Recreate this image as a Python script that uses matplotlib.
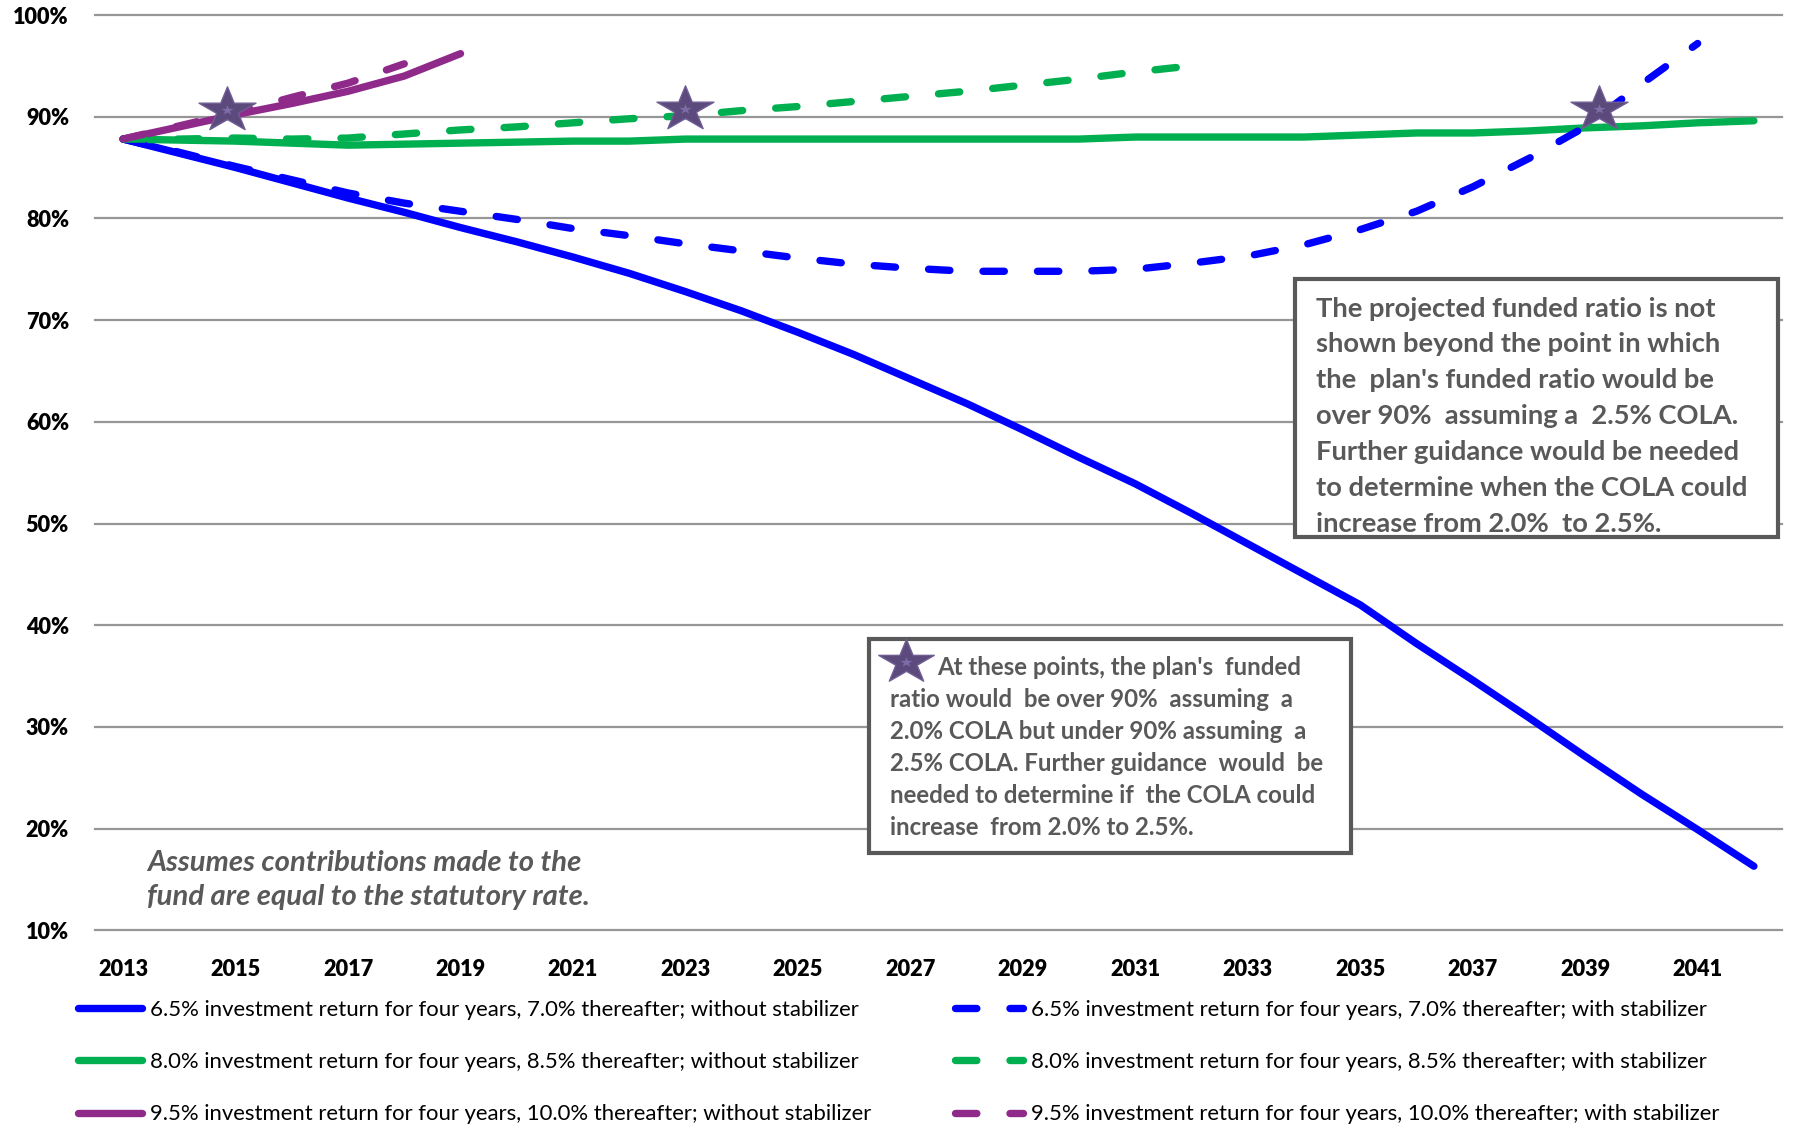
import numpy as np
import matplotlib
matplotlib.use("Agg")
import matplotlib.pyplot as plt
from matplotlib.font_manager import FontProperties
from matplotlib.lines import Line2D
from matplotlib.patches import Rectangle
from matplotlib.path import Path

# ---------------- data ----------------
years = list(range(2013, 2043))
tick_years = list(range(2013, 2042, 2))
ytick_vals = list(range(10, 101, 10))
ytick_labels = [f"{v}%" for v in ytick_vals]

blue_solid = [87.8, 86.4, 85.0, 83.5, 82.0, 80.6, 79.1, 77.7, 76.2, 74.6,
              72.8, 70.9, 68.8, 66.6, 64.2, 61.8, 59.2, 56.5, 53.9, 51.0,
              48.0, 45.0, 42.0, 38.2, 34.6, 30.9, 27.1, 23.4, 19.9, 16.3]
blue_dash = [87.8, 86.5, 85.1, 83.8, 82.5, 81.5, 80.7, 79.9, 79.0, 78.3,
             77.5, 76.8, 76.1, 75.5, 75.1, 74.8, 74.8, 74.8, 75.0, 75.6,
             76.3, 77.4, 78.9, 80.7, 83.1, 85.9, 89.0, 93.2, 97.2]
green_solid = [87.8, 87.7, 87.6, 87.4, 87.2, 87.3, 87.4, 87.5, 87.6, 87.6,
               87.8, 87.8, 87.8, 87.8, 87.8, 87.8, 87.8, 87.8, 88.0, 88.0,
               88.0, 88.0, 88.2, 88.4, 88.4, 88.6, 88.9, 89.1, 89.4, 89.6]
green_dash = [87.8, 87.8, 87.9, 87.8, 87.9, 88.3, 88.7, 89.0, 89.4, 89.8,
              90.1, 90.6, 91.0, 91.5, 92.0, 92.5, 93.1, 93.7, 94.4, 95.0]
purple_solid = [87.8, 89.0, 90.2, 91.3, 92.5, 94.0, 96.2]
purple_dash = [87.8, 89.1, 90.4, 91.9, 93.3, 95.2]

star_x = [2014.85, 2023.0, 2039.25]
star_y = [90.65, 90.8, 90.8]

labels = [
    "6.5% investment return for four years, 7.0% thereafter; without stabilizer",
    "8.0% investment return for four years, 8.5% thereafter; without stabilizer",
    "9.5% investment return for four years, 10.0% thereafter; without stabilizer",
    "6.5% investment return for four years, 7.0% thereafter; with stabilizer",
    "8.0% investment return for four years, 8.5% thereafter; with stabilizer",
    "9.5% investment return for four years, 10.0% thereafter; with stabilizer",
]

box1_lines = ["The projected funded ratio is not",
              "shown beyond the point in which",
              "the  plan's funded ratio would be",
              "over 90%  assuming a  2.5% COLA.",
              "Further guidance would be needed",
              "to determine when the COLA could",
              "increase from 2.0%  to 2.5%."]
box2_lines = ["At these points, the plan's  funded",
              "ratio would  be over 90%  assuming  a",
              "2.0% COLA but under 90% assuming  a",
              "2.5% COLA. Further guidance  would  be",
              "needed to determine if  the COLA could",
              "increase  from 2.0% to 2.5%."]
note_lines = ["Assumes contributions made to the",
              "fund are equal to the statutory rate."]

# ---------------- style ----------------
BLUE = "#0000FF"
GREEN = "#00B050"
PURPLE = "#8F2A8A"
STAR = "#5C4A7D"
STAR_IN = "#7E6CA8"
GREY_TXT = "#595959"
GRID = "#969696"
FONT = "Lato"

W, H = 1794, 1131
fig = plt.figure(figsize=(W / 100, H / 100), dpi=100)
fig.patch.set_facecolor("white")
renderer = fig.canvas.get_renderer()


def fx(px):
    return px / W


def fy(py):
    return 1 - py / H


def fit(text, target, weight="normal", style="normal"):
    fp = FontProperties(family=FONT, weight=weight, style=style, size=20)
    w, h, d = renderer.get_text_width_height_descent(text, fp, ismath=False)
    return 20 * target / w


ax = fig.add_axes([fx(95), fy(930.3), 1687 / W, (930.3 - 15) / H])
ax.set_xlim(2012.5, 2042.5)
ax.set_ylim(10, 100)
for s in ax.spines.values():
    s.set_visible(False)

ax.set_yticks(ytick_vals)
ax.set_yticklabels(ytick_labels)
ax.set_xticks(tick_years)
ax.set_xticklabels([str(y) for y in tick_years])
tick_fs = fit("2013", 50, weight="bold")
ax.tick_params(axis="both", length=0, labelsize=tick_fs)
ax.tick_params(axis="y", pad=18.7)
ax.tick_params(axis="x", pad=20.5)
for lab in ax.get_xticklabels() + ax.get_yticklabels():
    lab.set_fontfamily(FONT)
    lab.set_fontweight("heavy")
    lab.set_color("black")

ax.grid(axis="y", color=GRID, lw=1.6)
ax.grid(axis="x", visible=False)
for gl in ax.get_ygridlines():
    gl.set_clip_on(False)
ax.set_axisbelow(True)

LW = 5.3
DASH = (0, (2.9, 4.5))
common_solid = dict(lw=LW, solid_capstyle="round", solid_joinstyle="round")
common_dash = dict(lw=LW, ls=DASH, dash_capstyle="round", dash_joinstyle="round")

h0, = ax.plot(years[:len(blue_solid)], blue_solid, color=BLUE, label=labels[0], zorder=3, **common_solid)
h1, = ax.plot(years[:len(green_solid)], green_solid, color=GREEN, label=labels[1], zorder=3, **common_solid)
h2, = ax.plot(years[:len(purple_solid)], purple_solid, color=PURPLE, label=labels[2], zorder=3, **common_solid)
h3, = ax.plot(years[:len(blue_dash)], blue_dash, color=BLUE, label=labels[3], zorder=4, **common_dash)
h4, = ax.plot(years[:len(green_dash)], green_dash, color=GREEN, label=labels[4], zorder=4, **common_dash)
h5, = ax.plot(years[:len(purple_dash)], purple_dash, color=PURPLE, label=labels[5], zorder=4, **common_dash)

# squashed star marker (as in the reference, wider than tall)
_base = Path.unit_regular_star(5, 0.381966)
_v = _base.vertices.copy()
_v[:, 1] *= 0.79
star_marker = Path(_v, _base.codes)

ax.plot(star_x, star_y, ls="none", marker=star_marker, ms=41, mfc=STAR,
        mec="#6F5E93", mew=1, zorder=6, clip_on=False)
ax.plot(star_x, star_y, ls="none", marker=star_marker, ms=9, mfc=STAR_IN,
        mec="none", zorder=7, clip_on=False)

# ---------------- legends ----------------
leg_fs = fit(labels[0], 713)
fs_px = leg_fs * 100 / 72
_, lp_h, _ = renderer.get_text_width_height_descent(
    "lp", FontProperties(family=FONT, size=leg_fs), ismath=False)
lspace = (52.5 - lp_h) / fs_px
leg_kw = dict(loc="center left", frameon=False,
              handletextpad=8 / fs_px, labelspacing=lspace,
              borderpad=0, borderaxespad=0, prop={"family": FONT, "size": leg_fs})
leg1 = fig.legend([h0, h1, h2], labels[:3], bbox_to_anchor=(fx(78), fy(1062)),
                  handlelength=64 / fs_px, **leg_kw)
leg2 = fig.legend([h3, h4, h5], labels[3:], bbox_to_anchor=(fx(955), fy(1062)),
                  handlelength=68 / fs_px, **leg_kw)
for lg in (leg1, leg2):
    for t in lg.get_texts():
        t.set_color("black")

# ---------------- annotation boxes ----------------
rect1 = Rectangle((fx(1295), fy(537)), (1778 - 1295) / W, (537 - 279) / H,
                  transform=fig.transFigure, facecolor="white",
                  edgecolor=GREY_TXT, lw=3.0, zorder=10)
fig.add_artist(rect1)
rect2 = Rectangle((fx(869), fy(853)), (1351 - 869) / W, (853 - 639) / H,
                  transform=fig.transFigure, facecolor="white",
                  edgecolor=GREY_TXT, lw=3.0, zorder=10)
fig.add_artist(rect2)

b1_fs = fit(box1_lines[0], 400, weight="bold")
for i, line in enumerate(box1_lines):
    fig.text(fx(1316), fy(316.7 + i * 35.8), line, fontsize=b1_fs, family=FONT,
             weight="bold", color=GREY_TXT, ha="left", va="baseline", zorder=11)

b2_fs = fit(box2_lines[4], 425, weight="bold")
for i, line in enumerate(box2_lines):
    x0 = 937 if i == 0 else 890
    fig.text(fx(x0), fy(675 + i * 32.0), line, fontsize=b2_fs, family=FONT,
             weight="bold", color=GREY_TXT, ha="left", va="baseline", zorder=11)

fig.add_artist(Line2D([fx(906)], [fy(662)], transform=fig.transFigure,
                      ls="none", marker=star_marker, ms=40, mfc=STAR,
                      mec="#6F5E93", mew=1, zorder=12))
fig.add_artist(Line2D([fx(906)], [fy(662)], transform=fig.transFigure,
                      ls="none", marker=star_marker, ms=9, mfc=STAR_IN,
                      mec="none", zorder=13))

note_fs = fit(note_lines[1], 441, weight="bold", style="italic")
for i, line in enumerate(note_lines):
    fig.text(fx(147), fy(870.7 + i * 34.3), line, fontsize=note_fs, family=FONT,
             weight="bold", style="italic", color=GREY_TXT, ha="left",
             va="baseline", zorder=11)

fig.savefig("out.png", dpi=100, facecolor="white")
